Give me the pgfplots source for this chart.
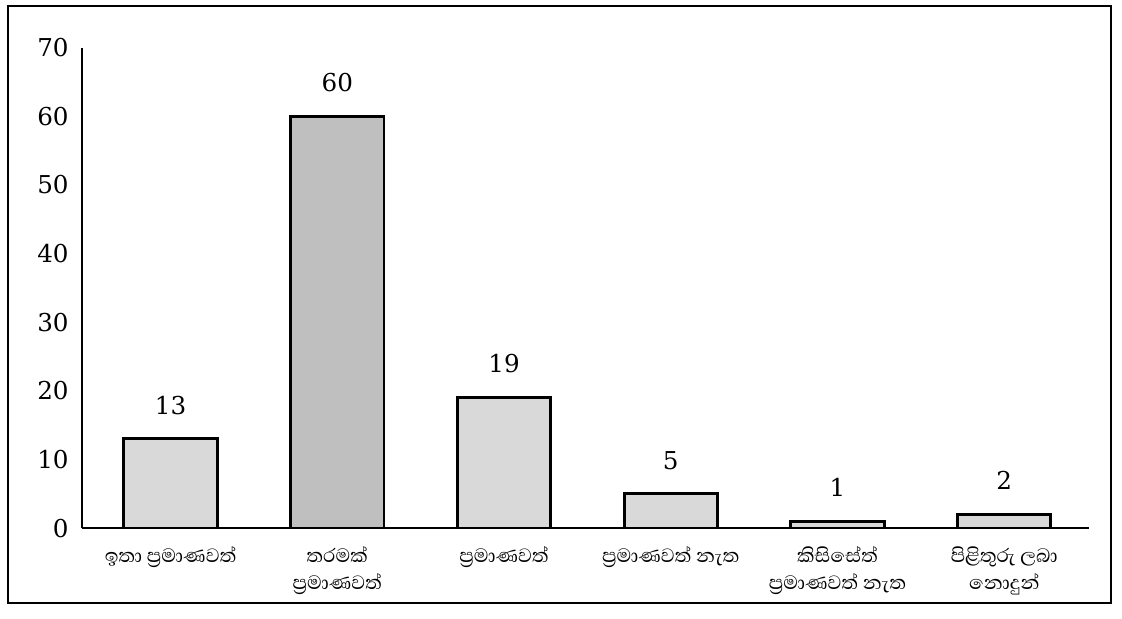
\documentclass[border={3pt 6pt 4pt 2pt}]{standalone}
\usepackage{fontspec}
\usepackage{pgfplots}
\pgfplotsset{compat=1.18}
\setmainfont{DejaVu Serif}
\newfontfamily\sinfont[Script=Sinhala]{Abhaya Libre}
\begin{document}
\begin{tikzpicture}
\begin{axis}[
  scale only axis,
  width=14.38cm, height=6.86cm,
  ymin=0, ymax=70,
  xmin=-0.53, xmax=5.51,
  ytick={0,10,...,70},
  xtick={0,1,2,3,4,5},
  xticklabels={
    {ඉතා ප්‍රමාණවත්},
    {තරමක්\\ප්‍රමාණවත්},
    {ප්‍රමාණවත්},
    {ප්‍රමාණවත් නැත},
    {කිසිසේත්\\ප්‍රමාණවත් නැත},
    {පිළිතුරු ලබා\\නොදුන්}},
  xticklabel style={font=\sinfont\fontsize{10}{11}\selectfont, align=center, text depth=0pt, anchor=north, yshift=-4pt},
  yticklabel style={font=\fontsize{10}{12}\selectfont, xshift=-2pt},
  /pgf/number format/assume math mode=true,
  axis x line=bottom, axis y line=left,
  axis line style={-, line width=0.8pt},
  major tick length=0pt,
  ybar, bar width=0.56, bar shift=0pt,
  nodes near coords,
  nodes near coords style={font=\fontsize{10}{12}\selectfont, yshift=6pt},
]
\addplot[draw=black, line width=1.2pt, fill=gray!30] coordinates {(0,13) (2,19) (3,5) (4,1) (5,2)};
\addplot[draw=black, line width=1.2pt, fill=gray!50] coordinates {(1,60)};
\end{axis}
\draw[line width=0.8pt] ([xshift=-30pt,yshift=-30.4pt]current axis.south west) rectangle ([xshift=8.9pt,yshift=17pt]current axis.north east);
\end{tikzpicture}
\end{document}
